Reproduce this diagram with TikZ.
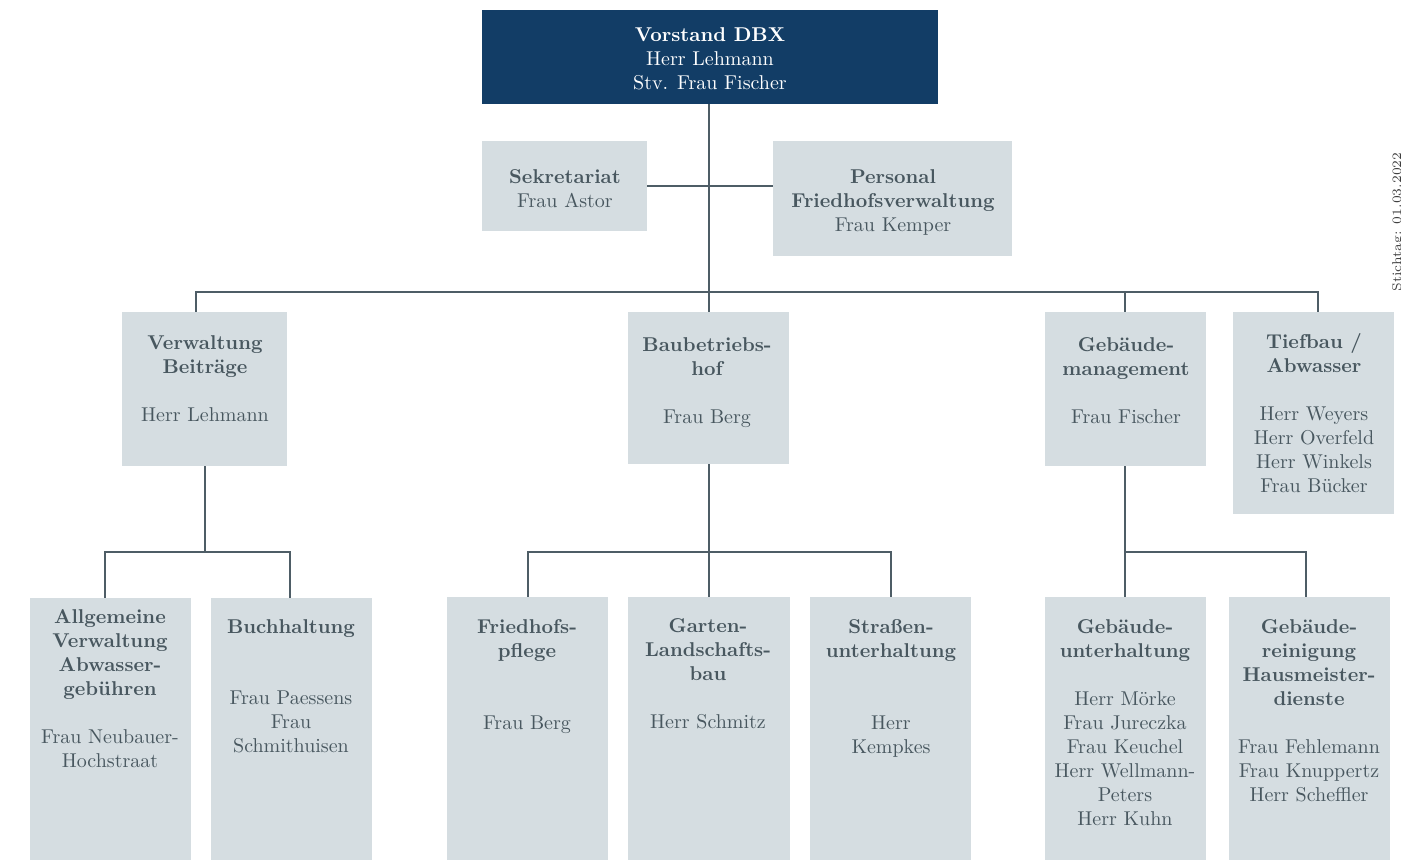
\documentclass[tikz,border=0pt]{standalone}
\usepackage{fontspec}
\definecolor{navy}{HTML}{123D66}
\definecolor{boxfill}{HTML}{D5DDE1}
\definecolor{txt}{HTML}{48575F}
\definecolor{linec}{HTML}{4E5D66}
\tikzset{
  orgbox/.style={fill=boxfill, draw=none, inner sep=0pt, minimum width=80.5pt},
  topbox/.style={fill=navy, draw=none, inner sep=0pt},
  ttl/.style={anchor=north, align=center, inner sep=0pt, text=txt, font=\fontsize{10}{12}\selectfont\bfseries},
  nms/.style={anchor=north, align=center, inner sep=0pt, text=txt, font=\fontsize{10}{12}\selectfont},
  conn/.style={draw=linec, line width=1pt, line join=miter}
}
\begin{document}
\begin{tikzpicture}[x=0.5pt,y=-0.5pt]
\useasboundingbox (0,0) rectangle (1401,859);

% boxes
\node[topbox, minimum width=228pt, minimum height=47pt] (vor) at (710,57) {};
\node[orgbox, minimum width=82.5pt, minimum height=45pt] (sek) at (564.5,186) {};
\node[orgbox, minimum width=119.5pt, minimum height=57.5pt] (per) at (892.5,198.5) {};
\node[orgbox, minimum width=82.5pt, minimum height=77pt] (vb) at (204.5,389) {};
\node[orgbox, minimum height=76pt] (bh) at (708.5,388) {};
\node[orgbox, minimum height=77pt] (gm) at (1125,389) {};
\node[orgbox, minimum height=101pt] (tb) at (1313.5,413) {};
\node[orgbox, minimum height=136pt] (av) at (110.5,734) {};
\node[orgbox, minimum height=136pt] (bu) at (291.5,734) {};
\node[orgbox, minimum height=136.5pt] (fp) at (527.5,733.5) {};
\node[orgbox, minimum width=81pt, minimum height=136.5pt] (gl) at (708.5,733.5) {};
\node[orgbox, minimum height=136.5pt] (su) at (890.5,733.5) {};
\node[orgbox, minimum height=136.5pt] (gu) at (1125,733.5) {};
\node[orgbox, minimum height=136.5pt] (gr) at (1309.5,733.5) {};

% texts
\node[ttl, text=white] (vorT) at (710,27) {Vorstand DBX};
\node[nms, text=white] (vorN) at (710,51) {Herr Lehmann\\Stv. Frau Fischer};
\node[ttl] (sekT) at (565,169) {Sekretariat};
\node[nms] (sekN) at (565,193) {Frau Astor};
\node[ttl] (perT) at (893,169) {Personal\\Friedhofsverwaltung};
\node[nms] (perN) at (893,217) {Frau Kemper};
\node[ttl] (vbT) at (205,335) {Verwaltung\\Beiträge};
\node[nms] (vbN) at (205,407) {Herr Lehmann};
\node[ttl] (bhT) at (707,337) {Baubetriebs-\\hof};
\node[nms] (bhN) at (707,409) {Frau Berg};
\node[ttl] (gmT) at (1126,337) {Gebäude-\\management};
\node[nms] (gmN) at (1126,409) {Frau Fischer};
\node[ttl] (tbT) at (1314,333) {Tiefbau /\\Abwasser};
\node[nms] (tbN) at (1314,406) {Herr Weyers\\Herr Overfeld\\Herr Winkels\\Frau Bücker};
\node[ttl] (avT) at (110,609) {Allgemeine\\Verwaltung\\Abwasser-\\gebühren};
\node[nms] (avN) at (110,729) {Frau Neubauer-\\Hochstraat};
\node[ttl] (buT) at (291,619) {Buchhaltung};
\node[nms] (buN) at (291,690) {Frau Paessens\\Frau\\Schmithuisen};
\node[ttl] (fpT) at (527,619) {Friedhofs-\\pflege};
\node[nms] (fpN) at (527,715) {Frau Berg};
\node[ttl] (glT) at (708,618) {Garten-\\Landschafts-\\bau};
\node[nms] (glN) at (708,714) {Herr Schmitz};
\node[ttl] (suT) at (891,619) {Straßen-\\unterhaltung};
\node[nms] (suN) at (891,715) {Herr\\Kempkes};
\node[ttl] (guT) at (1125,619) {Gebäude-\\unterhaltung};
\node[nms] (guN) at (1125,691) {Herr Mörke\\Frau Jureczka\\Frau Keuchel\\Herr Wellmann-\\Peters\\Herr Kuhn};
\node[ttl] (grT) at (1309,619) {Gebäude-\\reinigung\\Hausmeister-\\dienste};
\node[nms] (grN) at (1309,739) {Frau Fehlemann\\Frau Knuppertz\\Herr Scheffler};

\node[rotate=90, inner sep=0pt, text=black!75, font=\fontsize{6.4}{8}\selectfont] (stich) at (1398,222) {Stichtag: 01.03.2022};

% connectors
\coordinate (busL) at (196,292);
\coordinate (busR) at (1318,292);
\coordinate (lvl) at (0,552);
\coordinate (avd) at (105,552);
\coordinate (bud) at (290,552);
\coordinate (grd) at (1306,552);

\draw[conn] (bh.north |- vor.south) -- (bh.north);
\draw[conn] (sek.east) -- (sek.east -| per.west);
\draw[conn] (busL |- vb.north) -- (busL) -- (busR) -- (busR |- tb.north);
\draw[conn] (gm.north |- busL) -- (gm.north);

\draw[conn] (vb.south) -- (vb.south |- lvl);
\draw[conn] (avd |- av.north) -- (avd) -- (bud) -- (bud |- bu.north);

\draw[conn] (bh.south) -- (gl.north);
\draw[conn] (fp.north) -- (fp.north |- lvl) -- (su.north |- lvl) -- (su.north);

\draw[conn] (gm.south) -- (gu.north);
\draw[conn] (gm.south |- lvl) -- (grd) -- (grd |- gr.north);
\end{tikzpicture}
\end{document}
